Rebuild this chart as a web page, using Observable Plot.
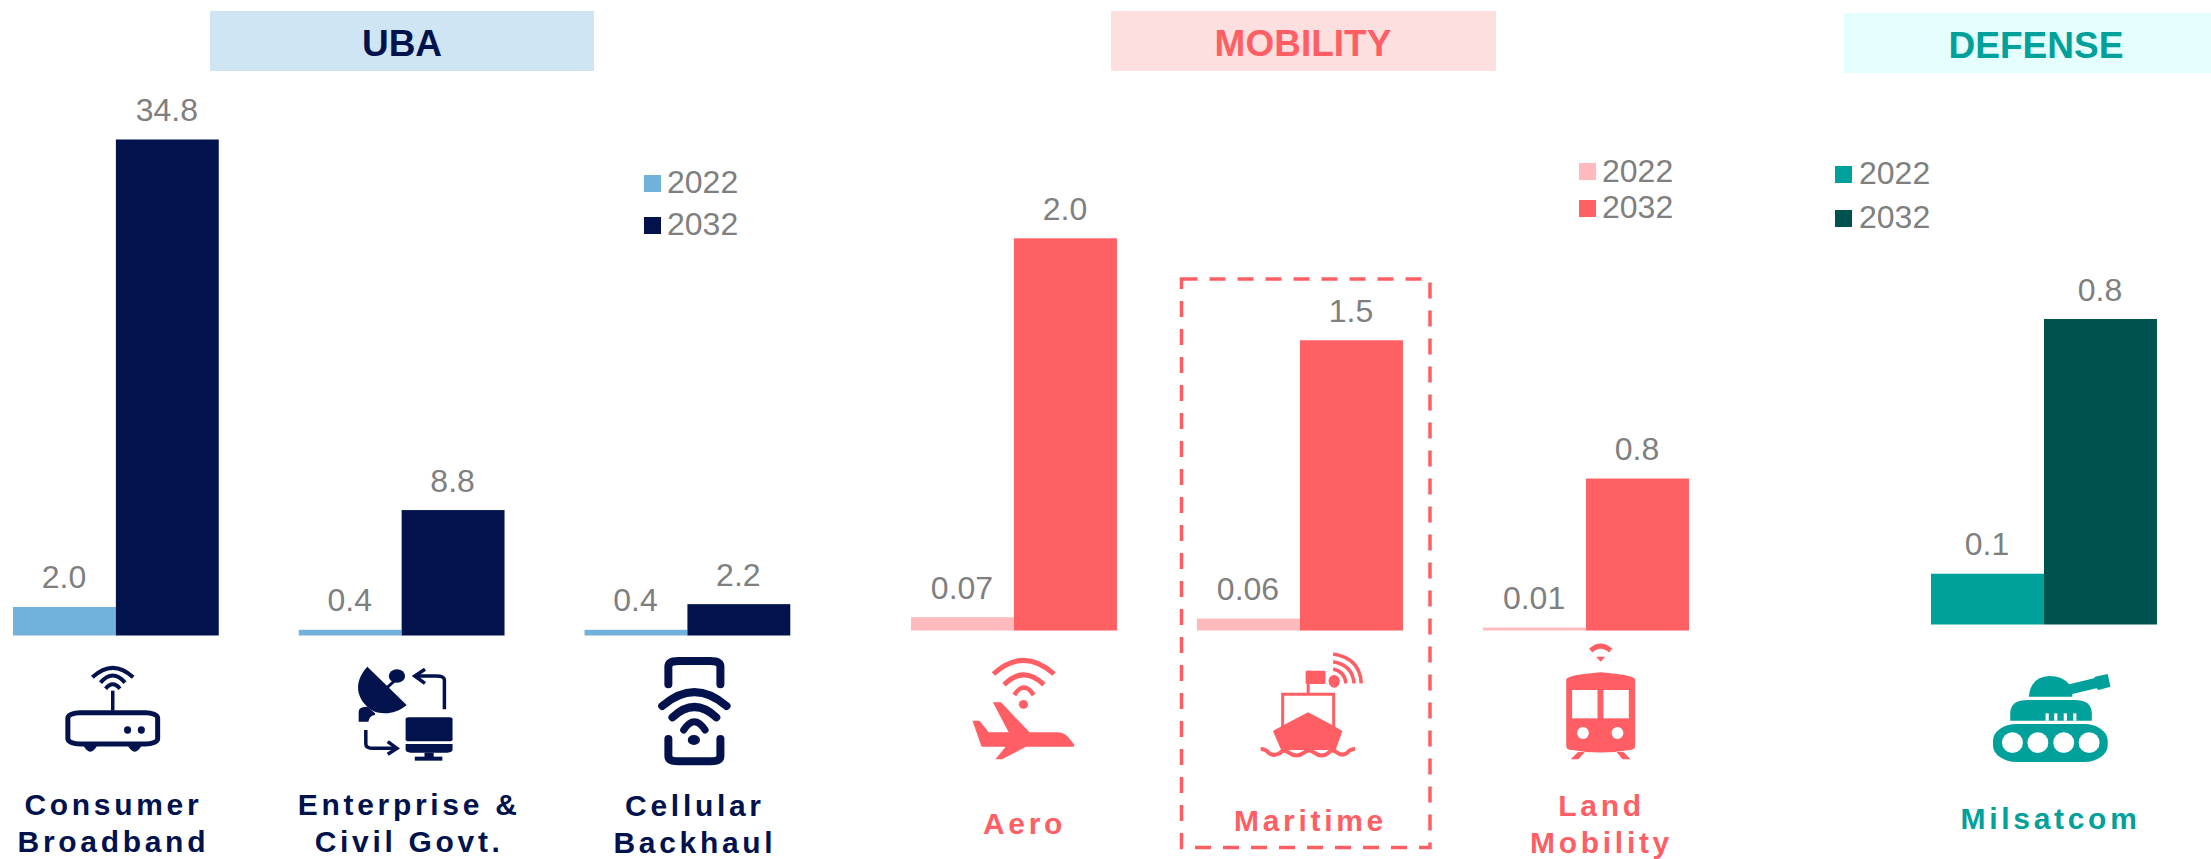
<!DOCTYPE html>
<html><head><meta charset="utf-8">
<script src="https://cdn.jsdelivr.net/npm/d3@7"></script>
<script src="https://cdn.jsdelivr.net/npm/@observablehq/plot@0.6"></script>
<style>
html,body{margin:0;padding:0;background:#fff}
#chart{position:relative;width:2211px;height:859px;overflow:hidden;font-family:"Liberation Sans",Arial,sans-serif}
#chart>svg,#chart>div{position:absolute;top:0}
g[font-weight="700"] text{letter-spacing:3.7px}
</style></head><body>
<div id="chart"></div>
<script>
const years = ["2022", "2032"];

const ubaCategories = ["Consumer\nBroadband", "Enterprise &\nCivil Govt.", "Cellular\nBackhaul"];
const uba2022 = [2.0, 0.4, 0.4];
const uba2032 = [34.8, 8.8, 2.2];
const ubaLabels2022 = ["2.0", "0.4", "0.4"];
const ubaLabels2032 = ["34.8", "8.8", "2.2"];

const mobilityCategories = ["Aero", "Maritime", "Land\nMobility"];
const mobility2022 = [0.068, 0.061, 0.015];
const mobility2032 = [2.0, 1.48, 0.775];
const mobilityLabels2022 = ["0.07", "0.06", "0.01"];
const mobilityLabels2032 = ["2.0", "1.5", "0.8"];

const defenseCategories = ["Milsatcom"];
const defense2022 = [0.133];
const defense2032 = [0.8];
const defenseLabels2022 = ["0.1"];
const defenseLabels2032 = ["0.8"];

const headers = [
  {text: "UBA", x: 210, w: 384, y: 11, h: 60, tx: 402, by: 56, bg: "#d0e5f4", fg: "#02124d"},
  {text: "MOBILITY", x: 1111, w: 385, y: 11, h: 60, tx: 1303, by: 56, bg: "#fddfe0", fg: "#ff5f64"},
  {text: "DEFENSE", x: 1844, w: 367, y: 13, h: 60, tx: 2036, by: 58, bg: "#e5fefe", fg: "#00a19a"}
];
const legends = [
  {x: 644, tx: 667, rows: [[175, 193, "#71b2dc"], [217, 235, "#02124c"]]},
  {x: 1579, tx: 1602, rows: [[163, 182, "#ffbabd"], [200, 218, "#ff6064"]]},
  {x: 1835, tx: 1859, rows: [[166, 184, "#00a19b"], [210, 228, "#00524f"]]}
];

function rows(cats, a, b, la, lb) {
  return cats.flatMap((c, i) => [
    {cat: c, year: years[0], value: a[i], label: la[i]},
    {cat: c, year: years[1], value: b[i], label: lb[i]}
  ]);
}

const M = 60; // side margin of each small panel, so that labels have room
function panel({cats, data, colors, fg, left, right, top, base, max, labelDx, labelDy, pad}) {
  const svg = Plot.plot({
    width: right - left + 2 * M, height: 859,
    marginLeft: M, marginRight: M, marginTop: top, marginBottom: 859 - base,
    style: {background: "transparent", maxWidth: "none", overflow: "visible", height: "859px"},
    fx: {domain: cats, paddingInner: pad, paddingOuter: 0, round: false, axis: null},
    x: {domain: years, padding: 0, round: false, axis: null},
    y: {domain: [0, max], axis: null},
    color: {domain: years, range: colors},
    marks: [
      Plot.barY(data, {fx: "cat", x: "year", y: "value", fill: "year"}),
      Plot.text(data, {fx: "cat", x: "year", y: "value", text: "label", dy: -19, dx: -1, lineAnchor: "bottom",
        fontSize: 32, fill: "#7f7f7f", fontFamily: "Liberation Sans"}),
      ...cats.map((c, i) => Plot.text([c], {fx: d => d, text: d => d, frameAnchor: "bottom",
        dx: labelDx[i], dy: labelDy[i],
        lineAnchor: "middle", lineHeight: 1.22, fontSize: 30, fontWeight: 700, fill: fg,
        fontFamily: "Liberation Sans"}))
    ]
  });
  svg.style.left = (left - M) + "px";
  document.getElementById("chart").appendChild(svg);
}

panel({cats: ubaCategories, data: rows(ubaCategories, uba2022, uba2032, ubaLabels2022, ubaLabels2032),
  colors: ["#71b2dc", "#02124c"], fg: "#02124d", left: 12.7, right: 790, top: 139.5, base: 635.5, max: 34.8,
  labelDx: [-3, 7, 7], labelDy: [186, 186, 187], pad: 0.28});
panel({cats: mobilityCategories, data: rows(mobilityCategories, mobility2022, mobility2032, mobilityLabels2022, mobilityLabels2032),
  colors: ["#ffbabd", "#ff6064"], fg: "#ff5f64", left: 911, right: 1689, top: 238.3, base: 630.5, max: 2,
  labelDx: [10, 10, 15], labelDy: [191, 188, 192], pad: 0.28});
panel({cats: defenseCategories, data: rows(defenseCategories, defense2022, defense2032, defenseLabels2022, defenseLabels2032),
  colors: ["#00a19b", "#00524f"], fg: "#00a19a", left: 1931, right: 2157, top: 319, base: 624.5, max: 0.8,
  labelDx: [6], labelDy: [192], pad: 0});

const navy = "#02124c", coral = "#ff5f64", teal = "#00a19b";
const arc = (d, w) => `<path d="${d}" fill="none" stroke-width="${w}" vector-effect="non-scaling-stroke"/>`;
const overlay = `
<svg width="2211" height="859" xmlns="http://www.w3.org/2000/svg" style="pointer-events:none">
${headers.map(h => `<rect x="${h.x}" y="${h.y}" width="${h.w}" height="${h.h}" fill="${h.bg}"/>
<text x="${h.tx}" y="${h.by}" text-anchor="middle" font-size="37" font-weight="700" fill="${h.fg}">${h.text}</text>`).join("")}
${legends.map(l => l.rows.map((r, i) => `<rect x="${l.x}" y="${r[0]}" width="17" height="17" fill="${r[2]}"/>
<text x="${l.tx}" y="${r[1]}" font-size="32" fill="#7f7f7f">${years[i]}</text>`).join("")).join("")}
<rect x="1181.5" y="279" width="248.5" height="568.5" fill="none" stroke="${coral}" stroke-width="3.5" stroke-dasharray="16 12"/>

<g transform="translate(0,600) scale(${1/1.96},${1/3})" fill="${navy}" stroke="${navy}" stroke-linecap="butt">
  <g stroke="${navy}">
    <rect x="133" y="338" width="176" height="94" rx="24" ry="16" fill="none" stroke-width="5" vector-effect="non-scaling-stroke"/>
    ${arc("M221 272V332", 3.5)}
    ${arc("M181 232Q221 175 261 232", 4)}
    ${arc("M197 248Q221 205 245 248", 4)}
    ${arc("M207 266Q221 240 235 266", 4)}
  </g>
  <g stroke="none">
    <ellipse cx="250" cy="390" rx="7" ry="11"/><ellipse cx="277" cy="390" rx="7" ry="11"/>
    <path d="M163 436Q177 474 191 436Z"/><path d="M250 436Q264 474 278 436Z"/>
    <path d="M720 200C690 250 700 300 728 330C745 345 775 345 797 315Z"/>
    <ellipse cx="778" cy="228" rx="16" ry="20"/>
    <path d="M703 365V335Q703 320 720 320L735 340V345Q725 345 722 365Z"/>
    <rect x="795" y="352" width="92" height="72" rx="6"/>
    <path d="M795 432H887V448Q887 458 877 458H805Q795 458 795 448Z"/>
    <rect x="832" y="458" width="18" height="14"/><rect x="813" y="470" width="54" height="12"/>
    <ellipse cx="1360" cy="420" rx="12" ry="15"/>
  </g>
  ${arc("M757 265L775 240", 3)}
  ${arc("M871 328V240Q871 228 855 228H815", 3.5)}
  ${arc("M833 208L813 228L833 250", 3.5)}
  ${arc("M717 390V432Q717 445 732 445H775", 3.5)}
  ${arc("M760 425L778 445L760 463", 3.5)}
  <g stroke-linecap="round">
    ${arc("M1310 253V200Q1310 183 1330 183H1392Q1412 183 1412 200V253", 8)}
    ${arc("M1310 417V468Q1310 484 1330 484H1392Q1412 484 1412 468V417", 8)}
    ${arc("M1298 318Q1361 235 1424 318", 8)}
    ${arc("M1318 352Q1361 290 1404 352", 8)}
    ${arc("M1340 390Q1361 340 1382 390", 7)}
  </g>
</g>

<g transform="translate(850,600) scale(${1/1.96},${1/3})" fill="${coral}" stroke="${coral}">
  ${arc("M281 222Q340 140 400 222", 5)}
  ${arc("M302 254Q340 195 380 254", 5)}
  ${arc("M322 285Q341 240 360 285", 4.5)}
  <g stroke="none">
    <ellipse cx="340" cy="313" rx="9" ry="13"/>
    <path d="M280 307L296 307L352 397H408Q420 398 428 412L440 435L438 440H345L298 478H285L305 440H258L240 362H254L272 397H311Z"/>
    <rect x="893" y="212" width="39" height="40" rx="4"/>
    <ellipse cx="949" cy="244" rx="11" ry="19"/>
    <path d="M898 337L945 375L965 393L952 450H845L829 393L850 375Z"/>
  </g>
  ${arc("M898 212V280", 3)}
  ${arc("M947 162Q1000 175 1002 250", 3.5)}
  ${arc("M947 185Q985 195 988 250", 3.5)}
  ${arc("M947 207Q970 215 972 250", 3.5)}
  <rect x="848" y="283" width="100" height="100" fill="none" stroke-width="3" vector-effect="non-scaling-stroke"/>
  ${arc("M805 447Q815 447 820 458Q830 470 842 460Q850 445 860 458Q875 475 890 458Q900 445 910 458Q925 475 938 458Q945 445 955 458Q965 470 975 458Q980 447 990 447", 4)}
</g>

<g transform="translate(1500,600) scale(${1/2.205},${1/3})" fill="${coral}" stroke="${coral}">
  ${arc("M200 152Q222 125 244 152", 5)}
  <g stroke="none">
    <path d="M212 170H232L222 185Z"/>
    <path d="M146 238Q150 225 222 217Q294 225 298 238V438Q298 450 285 450Q222 465 159 450Q146 450 146 438Z"/>
    <rect x="159" y="270" width="56" height="85" fill="#fff"/>
    <rect x="228" y="270" width="56" height="85" fill="#fff"/>
    <ellipse cx="183" cy="399" rx="13" ry="18" fill="#fff"/>
    <ellipse cx="259" cy="399" rx="13" ry="18" fill="#fff"/>
    <path d="M172 456L156 478H173L187 456Z"/>
    <path d="M257 456L270 478H288L272 456Z"/>
  </g>
  <g fill="${teal}" stroke="none">
    <path d="M1166 290Q1170 230 1212 228Q1240 228 1255 253L1310 235L1312 230L1340 222L1346 260L1320 270L1315 265L1262 282V290Z"/>
    <path d="M1125 362V340Q1125 300 1165 300H1265Q1305 300 1305 340V362Z"/>
    <rect x="1087" y="372" width="253" height="114" rx="52" ry="50"/>
    <g fill="#fff">
      <rect x="1203" y="340" width="7" height="22"/><rect x="1222" y="340" width="7" height="22"/>
      <rect x="1243" y="340" width="7" height="22"/><rect x="1264" y="340" width="7" height="22"/>
      <ellipse cx="1130" cy="428" rx="23" ry="31"/><ellipse cx="1186" cy="428" rx="23" ry="31"/>
      <ellipse cx="1243" cy="428" rx="23" ry="31"/><ellipse cx="1299" cy="428" rx="23" ry="31"/>
    </g>
  </g>
</g>
</svg>`;
document.getElementById("chart").insertAdjacentHTML("beforeend", overlay);
</script>
</body></html>
